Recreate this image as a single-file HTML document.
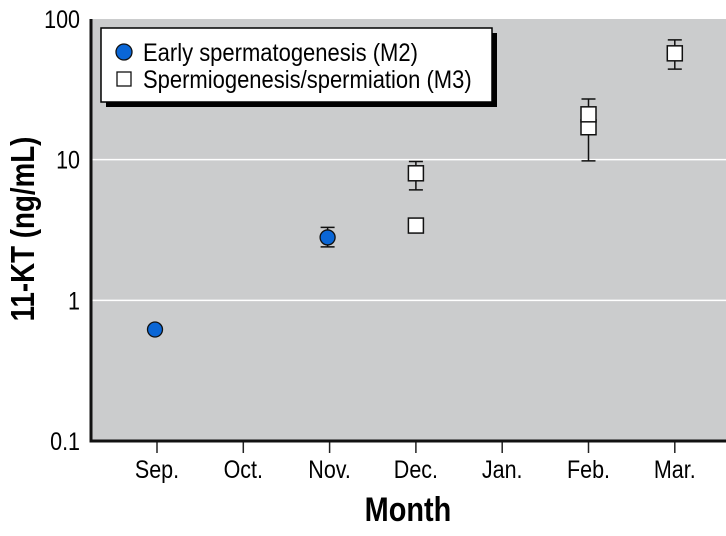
<!DOCTYPE html>
<html><head><meta charset="utf-8"><style>
body{margin:0;background:#fff;}
svg text{font-family:"Liberation Sans",sans-serif;}
</style></head><body>
<svg id="chart" width="726" height="531" viewBox="0 0 726 531">
<rect x="91" y="19" width="635" height="422" fill="#cbcccd"/>
<g id="grid"></g>
<g id="axes"></g>
<g id="marks"></g>
<g>
<rect x="106" y="33" width="391" height="74" fill="#000"/>
<rect x="101" y="28" width="391" height="74" fill="#fff" stroke="#000" stroke-width="1.5"/>
<circle cx="124" cy="52" r="8" fill="#0a66d6" stroke="#111" stroke-width="1.3"/>
<text x="143" y="61" font-size="25" transform="translate(143 0) scale(0.88 1) translate(-143 0)">Early spermatogenesis (M2)</text>
<rect x="117" y="72" width="14" height="14" fill="#fff" stroke="#111" stroke-width="1.3"/>
<text x="143" y="88" font-size="25" transform="translate(143 0) scale(0.88 1) translate(-143 0)">Spermiogenesis/spermiation (M3)</text>
</g>
<text x="0" y="0" font-size="33" font-weight="bold" text-anchor="middle" transform="translate(34 229) rotate(-90) scale(0.84 1)">11-KT (ng/mL)</text>
<text x="0" y="0" font-size="34" font-weight="bold" text-anchor="middle" transform="translate(408 521) scale(0.85 1)">Month</text>
</svg>
<script>
const months=["Sep.","Oct.","Nov.","Dec.","Jan.","Feb.","Mar."];
const yTicks=[0.1,1,10,100];
const yTickLabels=["0.1","1","10","100"];
const m2Month=["Sep.","Nov."];
const m2Value=[0.62,2.8];
const m2Low=[null,2.4];
const m2High=[null,3.3];
const m3Month=["Dec.","Dec.","Feb.","Feb.","Mar."];
const m3Value=[8,3.4,17,21,57];
const m3Low=[6.1,null,9.8,null,44];
const m3High=[9.7,null,27,null,71];

const NS="http://www.w3.org/2000/svg";
function x(m){return 157+months.indexOf(m)*86.3;}
function y(v){return 441-(Math.log10(v)+1)*140.67;}
function mk(tag,attrs,parent){const e=document.createElementNS(NS,tag);for(const k in attrs)e.setAttribute(k,attrs[k]);document.getElementById(parent).appendChild(e);return e;}

yTicks.forEach((t,i)=>{
  if(i>0&&i<yTicks.length-1){const g=mk('line',{x1:91,x2:726,y1:y(t),y2:y(t),stroke:'#fff','stroke-width':1.5},'grid');
  
  }
  const tx=mk('text',{x:80,y:y(t)+9,'font-size':25,'text-anchor':'end',transform:`translate(80 0) scale(0.86 1) translate(-80 0)`},'axes');
  tx.textContent=yTickLabels[i];
  
  
});
months.forEach(m=>{
  const l=mk('line',{x1:x(m),x2:x(m),y1:441,y2:453,stroke:'#222','stroke-width':1.5},'axes');
  
  
  const tx=mk('text',{x:x(m),y:478,'font-size':25,'text-anchor':'middle',transform:`translate(${x(m)} 0) scale(0.86 1) translate(${-x(m)} 0)`},'axes');
  tx.textContent=m;
  
  
});
const ax=mk('path',{d:'M91 19 V441 H726',fill:'none',stroke:'#111','stroke-width':3},'axes');



function err(cx,lo,hi){
  if(lo==null)return;
  const p=mk('path',{d:`M${cx} ${y(lo)} V${y(hi)} M${cx-7} ${y(lo)} H${cx+7} M${cx-7} ${y(hi)} H${cx+7}`,stroke:'#111','stroke-width':1.5,fill:'none'},'marks');
  
  
}
m3Month.forEach((m,i)=>{
  err(x(m),m3Low[i],m3High[i]);
});
m3Month.forEach((m,i)=>{
  const r=mk('rect',{x:x(m)-7.5,y:y(m3Value[i])-7.5,width:15,height:15,fill:'#fff',stroke:'#111','stroke-width':1.5},'marks');
  
  
});
m2Month.forEach((m,i)=>{
  err(x(m)-2,m2Low[i],m2High[i]);
  const c=mk('circle',{cx:x(m)-2,cy:y(m2Value[i]),r:7.5,fill:'#0a66d6',stroke:'#111','stroke-width':1.3},'marks');
  
  
});
</script>
</body></html>
